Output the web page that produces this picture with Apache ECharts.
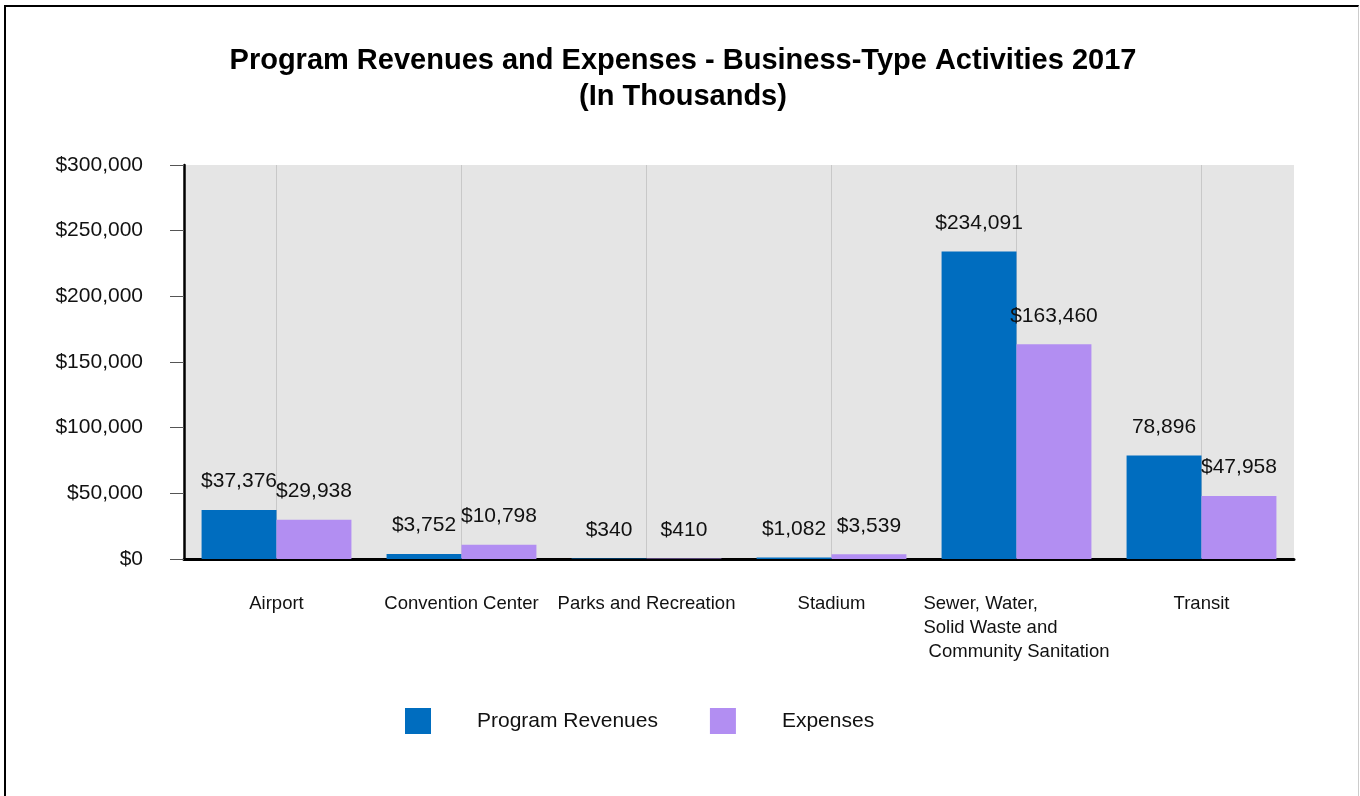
<!DOCTYPE html>
<html>
<head>
    <meta charset="utf-8">
    <title>Program Revenues and Expenses</title>
    <script src="https://cdn.jsdelivr.net/npm/echarts@6/dist/echarts.min.js"></script>
    <style>
        body { margin: 0; background: #fff; }
        #wrap { position: relative; width: 1360px; height: 796px; }
        #chart { position: absolute; left: 0; top: 0; width: 1360px; height: 796px; }
        #frame { position: absolute; left: 4px; top: 5px; width: 1352px; height: 800px;
                 border-left: 2px solid #000; border-top: 2px solid #000; border-right: 1px solid #ccc;
                 pointer-events: none; }
    </style>
</head>
<body>
    <div id="wrap">
        <div id="chart"></div>
        <div id="frame"></div>
    </div>
    <script type="text/javascript">
        var categories = ['Airport', 'Convention Center', 'Parks and Recreation', 'Stadium',
            'Sewer, Water,\nSolid Waste and\n Community Sanitation', 'Transit'];
        var revenues = [37376, 3752, 340, 1082, 234091, 78896];
        var expenses = [29938, 10798, 410, 3539, 163460, 47958];
        // labels as printed on the chart (one of them has no $)
        var revenueLabels = ['$37,376', '$3,752', '$340', '$1,082', '$234,091', '78,896'];
        var expenseLabels = ['$29,938', '$10,798', '$410', '$3,539', '$163,460', '$47,958'];

        var font = "'Liberation Sans', Arial, sans-serif";
        var chart = echarts.init(document.getElementById('chart'));

        var option = {
            textStyle: { fontFamily: font },
            title: {
                text: 'Program Revenues and Expenses - Business-Type Activities 2017\n(In Thousands)',
                left: 683,
                textAlign: 'center',
                top: 43,
                padding: 0,
                textStyle: {
                    fontFamily: font,
                    fontSize: 29,
                    fontWeight: 'bold',
                    color: '#000',
                    lineHeight: 36
                }
            },
            legend: {
                left: 405,
                top: 708,
                padding: 0,
                itemWidth: 26,
                itemHeight: 26,
                itemGap: 52,
                icon: 'rect',
                textStyle: {
                    fontFamily: font,
                    fontSize: 21,
                    color: '#111',
                    padding: [7, 0, 0, 41]
                },
                data: ['Program Revenues', 'Expenses']
            },
            grid: {
                left: 184,
                right: 66,
                top: 165,
                bottom: 237,
                show: true,
                backgroundColor: '#e5e5e5',
                borderWidth: 0
            },
            xAxis: {
                type: 'category',
                data: categories,
                axisLine: { lineStyle: { color: '#000', width: 3 } },
                axisTick: { alignWithLabel: true, length: 14, lineStyle: { color: '#999' } },
                splitLine: { show: true, alignWithLabel: true, lineStyle: { color: '#c8c8c8' } },
                axisLabel: {
                    interval: 0,
                    margin: 33,
                    fontFamily: font,
                    fontSize: 18.5,
                    color: '#111',
                    lineHeight: 24,
                    formatter: function (v) {
                        return v.split('\n').map(function (s) { return '{l|' + s + '}'; }).join('\n');
                    },
                    rich: {
                        l: { align: 'left', fontFamily: font, fontSize: 18.5, color: '#111', lineHeight: 24 }
                    }
                }
            },
            yAxis: {
                type: 'value',
                min: 0,
                max: 300000,
                interval: 50000,
                axisLine: { show: true, lineStyle: { color: '#000', width: 2.5 } },
                axisTick: { show: true, length: 14, lineStyle: { color: '#555' } },
                splitLine: { show: false },
                axisLabel: {
                    margin: 41,
                    fontFamily: font,
                    fontSize: 21,
                    color: '#111',
                    formatter: function (v) { return '$' + v.toLocaleString('en-US'); }
                }
            },
            series: [
                {
                    name: 'Program Revenues',
                    type: 'bar',
                    data: revenues,
                    barGap: 0,
                    barCategoryGap: '19%',
                    itemStyle: { color: '#006dbf' },
                    label: {
                        show: true,
                        position: 'top',
                        distance: 18,
                        fontFamily: font,
                        fontSize: 21,
                        color: '#111',
                        formatter: function (p) { return revenueLabels[p.dataIndex]; }
                    }
                },
                {
                    name: 'Expenses',
                    type: 'bar',
                    data: expenses,
                    barGap: 0,
                    barCategoryGap: '19%',
                    itemStyle: { color: '#b28ef2' },
                    label: {
                        show: true,
                        position: 'top',
                        distance: 18,
                        fontFamily: font,
                        fontSize: 21,
                        color: '#111',
                        formatter: function (p) { return expenseLabels[p.dataIndex]; }
                    }
                }
            ]
        };

        chart.setOption(option);
    </script>
</body>
</html>
